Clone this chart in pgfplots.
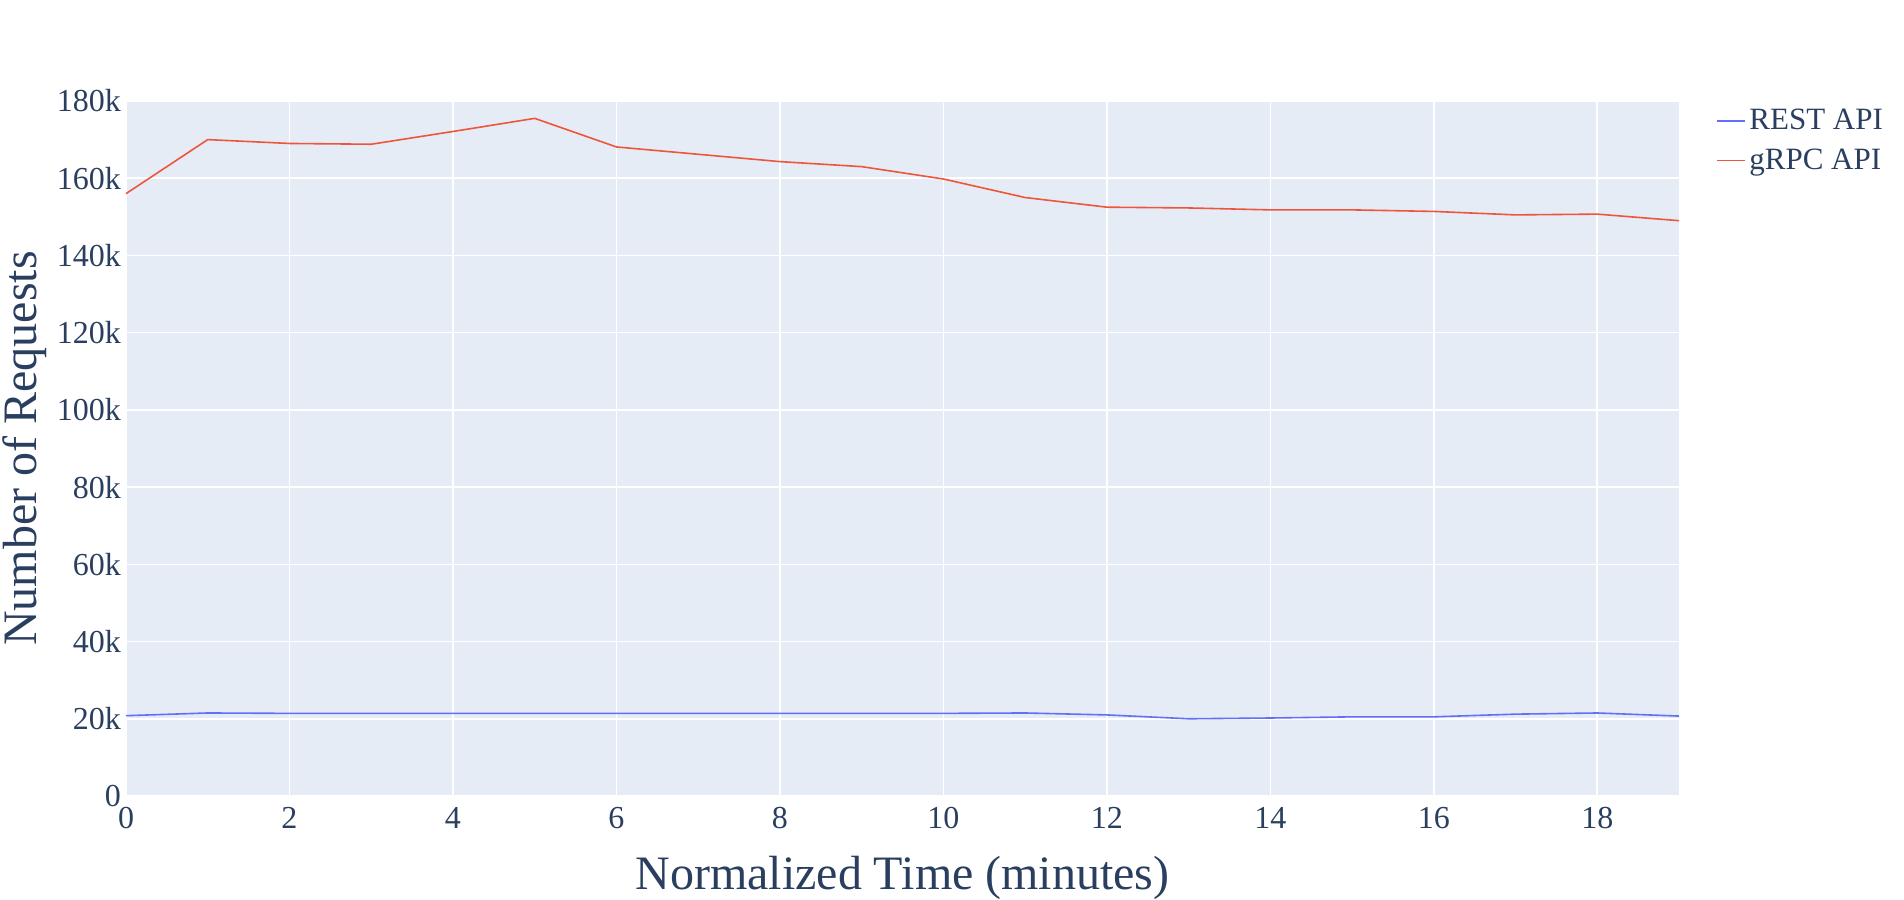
\documentclass[border=0pt]{standalone}
\usepackage{pgfplots}
\pgfplotsset{compat=1.18}
\usepackage{fontspec}
\setmainfont{Liberation Serif}
\definecolor{txt}{HTML}{2A3F5F}
\definecolor{bg}{HTML}{E5ECF6}
\definecolor{rest}{HTML}{636EFA}
\definecolor{grpc}{HTML}{EF553B}
\begin{document}
\begin{tikzpicture}
\useasboundingbox (0,0) rectangle (952pt,449.5pt);
\begin{axis}[at={(63pt,51.5pt)}, anchor=south west, scale only axis,
 width=776.5pt, height=347.5pt,
 xmin=0, xmax=19, ymin=0, ymax=180000,
 axis background/.style={fill=bg}, axis line style={draw=none},
 grid=major, grid style={white, line width=0.8pt},
 tick style={draw=none},
 xtick={0,2,...,18},
 ytick={0,20000,...,180000},
 yticklabels={0,20k,40k,60k,80k,100k,120k,140k,160k,180k},
 scaled y ticks=false,
 /pgf/number format/assume math mode=true,
 ticklabel style={font=\fontsize{16}{16}\selectfont, text=txt},
 xticklabel style={yshift=-2pt}, yticklabel style={xshift=1pt},
 xlabel={Normalized Time (minutes)}, ylabel={Number of Requests},
 label style={font=\fontsize{24}{24}\selectfont, text=txt},
 xlabel style={yshift=-7pt}, ylabel style={yshift=-2pt},
 legend style={at={(1.02,1)}, anchor=north west, draw=none, fill=none,
   font=\fontsize{15.5}{15.5}\selectfont, text=txt, row sep=4pt},
 legend image post style={xscale=0.8},
 legend cell align=left,
 clip=false]
\addplot[rest, line width=0.8pt] coordinates {(0,20800)(1,21500)(2,21400)(3,21400)(4,21400)(5,21400)(6,21400)(7,21400)(8,21400)(9,21400)(10,21400)(11,21500)(12,21000)(13,20000)(14,20200)(15,20500)(16,20500)(17,21200)(18,21500)(19,20700)};
\addlegendentry{REST API}
\addplot[grpc, line width=0.8pt] coordinates {(0,156000)(1,170000)(2,169000)(3,168800)(4,172100)(5,175500)(6,168100)(7,166200)(8,164300)(9,163000)(10,159800)(11,155000)(12,152500)(13,152300)(14,151800)(15,151800)(16,151400)(17,150500)(18,150700)(19,149000)};
\addlegendentry{gRPC API}
\end{axis}
\end{tikzpicture}
\end{document}
